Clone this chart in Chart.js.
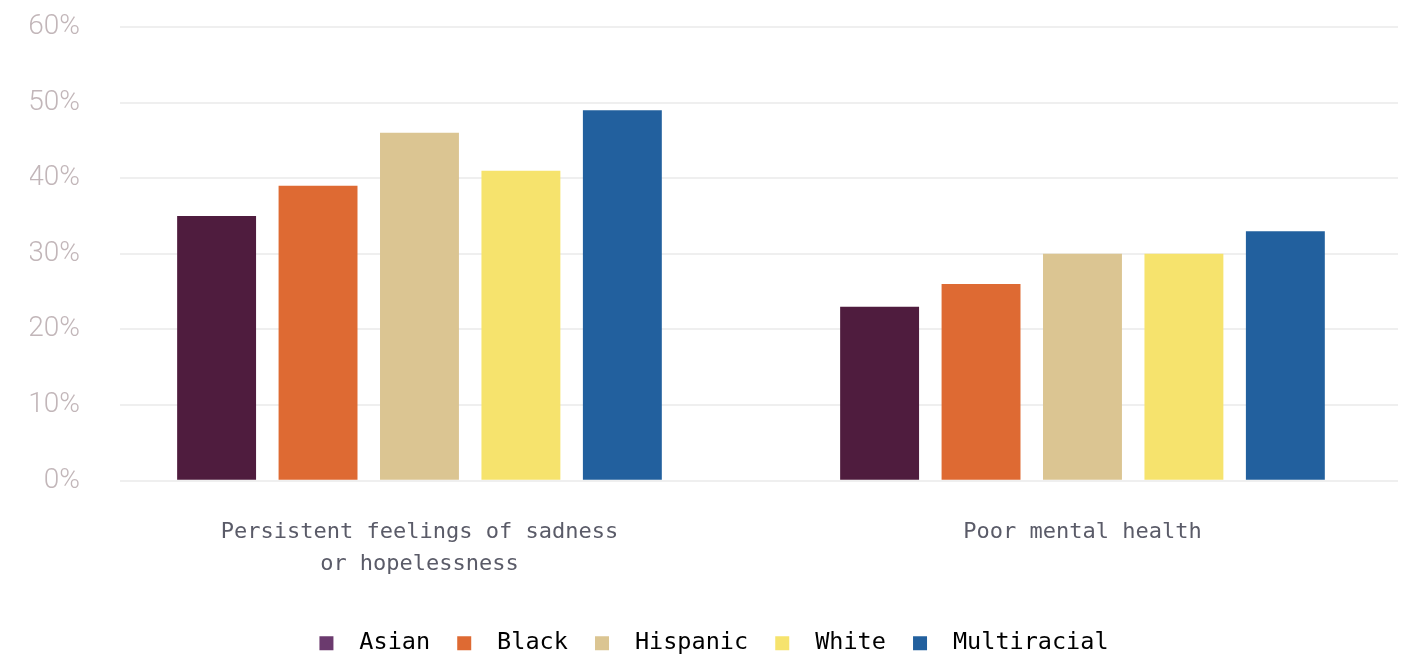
<!DOCTYPE html>
<html>
<head>
<meta charset="utf-8">
<script src="https://cdn.jsdelivr.net/npm/chart.js@4/dist/chart.umd.min.js"></script>
<style>
  html, body { margin: 0; padding: 0; background: #ffffff; }
  #wrap { width: 1418px; height: 654px; }
</style>
</head>
<body>
<div id="wrap"><canvas id="chart"></canvas></div>
<script>
// Share of students by race/ethnicity, per indicator
const categories = [
    ['Persistent feelings of sadness', 'or hopelessness'],
    ['Poor mental health']
];
const groupNames = ['Asian', 'Black', 'Hispanic', 'White', 'Multiracial'];
const asian = [35, 23];
const black = [39, 26];
const hispanic = [46, 30];
const white = [41, 30];
const multiracial = [49, 33];
const yTicks = [0, 10, 20, 30, 40, 50, 60];

const barColors = ['#4f1c3e', '#de6a33', '#dbc592', '#f6e36d', '#22609e'];
const swatchColors = ['#6b3a6e', '#de6a33', '#dbc592', '#f6e36d', '#22609e'];
const seriesValues = [asian, black, hispanic, white, multiracial];

// linear index axis so the two groups sit where we want them
const toPoints = vals => vals.map((v, i) => ({ x: i, y: v }));

const datasets = seriesValues.map((vals, i) => ({
    label: groupNames[i],
    data: toPoints(vals),
    backgroundColor: barColors[i],
    borderWidth: 0,
    categoryPercentage: 0.765,
    barPercentage: 0.778
}));

// keep tick labels from pushing the plot area around
const noScalePadding = axis => {
    axis.paddingTop = 0;
    axis.paddingBottom = 0;
    axis.paddingLeft = 0;
    axis.paddingRight = 0;
};

new Chart(document.getElementById('chart').getContext('2d'), {
    type: 'bar',
    data: { datasets: datasets },
    options: {
        responsive: true,
        maintainAspectRatio: false,
        animation: false,
        layout: { autoPadding: false, padding: { left: 30, right: 20, top: 27, bottom: -11 } },
        scales: {
            x: {
                type: 'linear',
                offset: false,
                min: -0.4517,
                max: 1.4759,
                afterFit: axis => {
                    noScalePadding(axis);
                    // extra room below the labels, pushes the legend down
                    axis.height += 10;
                },
                grid: { display: false },
                border: { display: false },
                ticks: {
                    stepSize: 1,
                    includeBounds: false,
                    maxRotation: 0,
                    autoSkip: false,
                    padding: 28,
                    color: '#5a5b68',
                    font: { family: 'DejaVu Sans Mono', size: 22, lineHeight: 1.45 },
                    callback: value => categories[value] || ''
                }
            },
            y: {
                min: 0,
                max: 60,
                afterBuildTicks: axis => {
                    axis.ticks = yTicks.map(v => ({ value: v }));
                },
                afterFit: axis => {
                    noScalePadding(axis);
                    axis.width = 90;
                },
                grid: { color: '#efefef', lineWidth: 2, drawTicks: false },
                border: { display: false },
                ticks: {
                    padding: 40,
                    color: '#c2b6b9',
                    font: { family: 'Roboto', size: 28, weight: 300 },
                    callback: value => value + '%'
                }
            }
        },
        plugins: {
            tooltip: { enabled: false },
            legend: {
                position: 'bottom',
                labels: {
                    boxWidth: 14,
                    boxHeight: 14,
                    padding: 13,
                    color: '#5a5b68',
                    font: { family: 'DejaVu Sans Mono', size: 23.5 },
                    generateLabels: chart => groupNames.map((name, i) => ({
                        text: ' ' + name + (i < groupNames.length - 1 ? ' ' : ''),
                        fillStyle: swatchColors[i],
                        strokeStyle: swatchColors[i],
                        lineWidth: 0,
                        hidden: false,
                        datasetIndex: i
                    }))
                }
            }
        }
    }
});
</script>
</body>
</html>
